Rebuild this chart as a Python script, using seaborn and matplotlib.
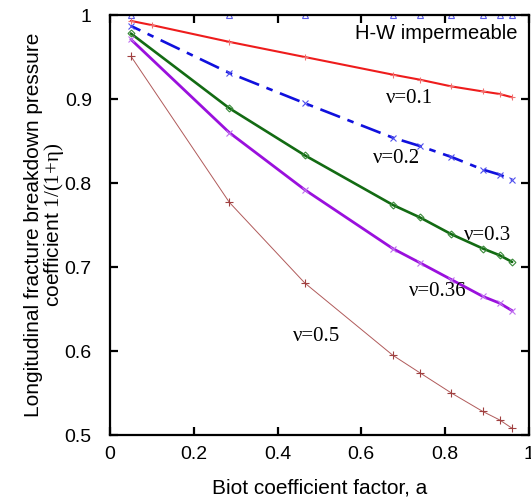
import numpy as np
import pandas as pd
import matplotlib
matplotlib.use("Agg")
import matplotlib.pyplot as plt
import seaborn as sns

# Biot coefficient factor positions of the markers
a_vals = [0.05, 0.285, 0.465, 0.675, 0.74, 0.815, 0.89, 0.93, 0.96]
a_red = [0.05, 0.1, 0.285, 0.465, 0.675, 0.74, 0.815, 0.89, 0.93, 0.96]

hw_imp = [1.0, 1.0, 1.0, 1.0, 1.0, 1.0, 1.0, 1.0, 1.0]
nu_01 = [0.993, 0.988, 0.968, 0.950, 0.929, 0.923, 0.915, 0.909, 0.906, 0.902]
nu_02 = [0.987, 0.931, 0.895, 0.854, 0.844, 0.831, 0.816, 0.810, 0.804]
nu_03 = [0.978, 0.889, 0.833, 0.774, 0.759, 0.739, 0.722, 0.714, 0.706]
nu_036 = [0.971, 0.860, 0.792, 0.722, 0.705, 0.685, 0.665, 0.657, 0.648]
nu_05 = [0.951, 0.777, 0.681, 0.595, 0.574, 0.550, 0.528, 0.518, 0.508]

labels = ["ν=0.1", "ν=0.2", "ν=0.3", "ν=0.36", "ν=0.5"]
label_pos = [(0.716, 0.901), (0.683, 0.829), (0.902, 0.738), (0.783, 0.671), (0.493, 0.617)]


def main():
    sns.set_style("ticks")
    plt.rcParams['font.family'] = ['Liberation Sans', 'DejaVu Sans']
    plt.rcParams['mathtext.fontset'] = 'custom'
    plt.rcParams['mathtext.rm'] = 'Liberation Serif'
    plt.rcParams['mathtext.it'] = 'Liberation Serif'
    plt.rcParams['text.color'] = 'black'
    plt.rcParams['axes.labelcolor'] = 'black'
    plt.rcParams['xtick.color'] = 'black'
    plt.rcParams['ytick.color'] = 'black'

    fig = plt.figure(figsize=(5.31, 5.0), dpi=100)
    ax = fig.add_axes([0.207, 0.13, 0.789, 0.84])

    # H-W impermeable triangles along y=1
    sns.lineplot(x=a_vals, y=hw_imp, ax=ax, color="#5a5ae6", linestyle="none",
                 marker="^", markersize=5, mfc="none", mec="#5a5ae6", mew=0.8)
    sns.lineplot(x=a_red, y=nu_01, ax=ax, color="#ee1c1c", linewidth=1.5,
                 marker="+", markersize=5, mec="#f07070", mew=0.8)
    sns.lineplot(x=a_vals, y=nu_02, ax=ax, color="#1010dd", linewidth=1.9,
                 linestyle=(4, (8, 3, 2.5, 3)),
                 marker="x", markersize=4, mec="#5050ee", mew=0.8)
    sns.lineplot(x=a_vals, y=nu_03, ax=ax, color="#136b13", linewidth=1.9,
                 marker="D", markersize=3.5, mfc="none", mec="#3a8a3a", mew=0.8)
    sns.lineplot(x=a_vals, y=nu_036, ax=ax, color="#9a10dd", linewidth=2.0,
                 marker="x", markersize=4.5, mec="#c070f0", mew=0.8)
    sns.lineplot(x=a_vals, y=nu_05, ax=ax, color="#b05a5a", linewidth=0.7,
                 marker="+", markersize=6, mec="#a04040", mew=0.8)

    for txt, (xp, yp) in zip(labels, label_pos):
        ax.text(xp, yp, txt, ha="center", va="center", fontsize=15,
                family=["Liberation Serif", "DejaVu Serif"])
    ax.text(0.974, 0.978, "H-W impermeable", ha="right", va="center", fontsize=14.5)

    ax.set_xlim(0, 1)
    ax.set_ylim(0.5, 1)
    ax.set_xticks(np.arange(0, 1.01, 0.2))
    ax.set_xticklabels(["0", "0.2", "0.4", "0.6", "0.8", "1"])
    ax.set_yticks(np.arange(0.5, 1.01, 0.1))
    ax.set_yticklabels(["0.5", "0.6", "0.7", "0.8", "0.9", "1"])
    ax.tick_params(direction="in", length=6, width=1.6, top=True, right=True,
                   labelsize=14, color="black")
    ax.tick_params(axis="x", pad=8)
    ax.tick_params(axis="y", pad=13)
    for s in ax.spines.values():
        s.set_linewidth(1.6)
        s.set_color("black")

    ax.set_xlabel("Biot coefficient factor, a", fontsize=15, labelpad=11)
    ax.set_ylabel("Longitudinal fracture breakdown pressure\ncoefficient $\\mathrm{1/(1{+}\\eta)}$",
                  fontsize=15, labelpad=-1, linespacing=0.95)

    fig.savefig("out.png", dpi=100)


if __name__ == "__main__":
    main()
